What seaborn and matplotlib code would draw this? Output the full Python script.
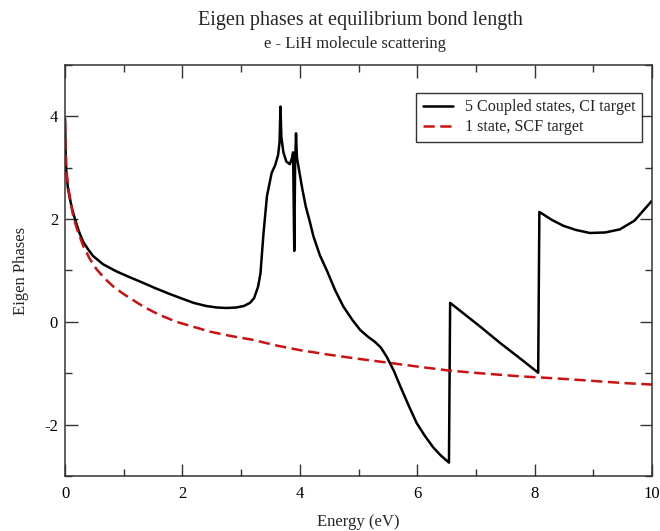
import numpy as np
import pandas as pd
import matplotlib
matplotlib.use("Agg")
import matplotlib.pyplot as plt
from matplotlib.ticker import MultipleLocator
import seaborn as sns

# ──────────────────────────────────────────────
# Data
# ──────────────────────────────────────────────
ci_energy = [
    0.0, 0.01, 0.02, 0.05, 0.085, 0.12, 0.17, 0.24, 0.31, 0.4, 0.48, 0.65,
    0.88, 1.1, 1.33, 1.55, 1.79, 2.0, 2.19, 2.4, 2.58, 2.75, 2.92, 3.05,
    3.15, 3.22, 3.29, 3.33, 3.38, 3.44, 3.52, 3.58, 3.63, 3.655, 3.67,
    3.685, 3.72, 3.77, 3.83, 3.87, 3.885, 3.905, 3.92, 3.935, 3.95, 3.98,
    4.04, 4.1, 4.17, 4.23, 4.34, 4.46, 4.6, 4.74, 4.9, 5.03, 5.15, 5.28,
    5.38, 5.48, 5.6, 5.71, 5.85, 5.99, 6.13, 6.27, 6.4, 6.54, 6.56, 7.07,
    7.4, 7.75, 8.06, 8.08, 8.3, 8.49, 8.7, 8.94, 9.2, 9.45, 9.7, 10.0,
]
ci_phase = [
    3.96, 3.35, 2.95, 2.6, 2.39, 2.2, 2.0, 1.75, 1.56, 1.4, 1.28, 1.12,
    0.98, 0.87, 0.76, 0.65, 0.54, 0.45, 0.37, 0.31, 0.28, 0.27, 0.28, 0.31,
    0.37, 0.46, 0.69, 0.95, 1.71, 2.45, 2.9, 3.05, 3.25, 3.5, 4.19,
    3.6, 3.3, 3.12, 3.07, 3.2, 3.3, 1.38, 3.1, 3.67, 3.2, 3.0,
    2.6, 2.25, 1.95, 1.67, 1.3, 1.0, 0.62, 0.3, 0.03, -0.16, -0.28, -0.39,
    -0.5, -0.68, -0.95, -1.25, -1.62, -1.97, -2.22, -2.44, -2.6, -2.74, 0.37, -0.09,
    -0.4, -0.71, -0.99, 2.14, 1.98, 1.87, 1.79, 1.73, 1.74, 1.8, 1.97, 2.36,
]

scf_energy = [
    0.0, 0.01, 0.02, 0.05, 0.1, 0.14, 0.2, 0.31, 0.42, 0.54, 0.68, 0.82,
    1.0, 1.33, 1.6, 1.9, 2.2, 2.47, 2.8, 3.2, 3.6, 4.0, 4.5, 5.0, 5.54,
    6.0, 6.56, 7.07, 7.75, 8.06, 8.5, 9.0, 9.5, 10.0,
]
scf_phase = [
    3.9, 3.3, 3.0, 2.65, 2.3, 2.06, 1.82, 1.48, 1.23, 1.02, 0.84, 0.69,
    0.54, 0.3, 0.14, 0.0, -0.1, -0.19, -0.27, -0.35, -0.46, -0.55, -0.64, -0.72, -0.8,
    -0.87, -0.95, -1.0, -1.06, -1.08, -1.11, -1.15, -1.19, -1.22,
]

ci_label = "5 Coupled states, CI target"
scf_label = "1 state, SCF target"

df_ci = pd.DataFrame({"energy": ci_energy, "phase": ci_phase})
df_scf = pd.DataFrame({"energy": scf_energy, "phase": scf_phase})

# ──────────────────────────────────────────────
# Style
# ──────────────────────────────────────────────
sns.set_style("ticks")
plt.rcParams["font.family"] = ["Liberation Serif", "DejaVu Serif"]
plt.rcParams["axes.unicode_minus"] = False

fig = plt.figure(figsize=(6.6, 5.31), dpi=100)
ax = fig.add_axes([0.0985, 0.1036, 0.8895, 0.774])

sns.lineplot(data=df_ci, x="energy", y="phase", ax=ax, sort=False,
             estimator=None, color="black", linewidth=1.8, label=ci_label)
sns.lineplot(data=df_scf, x="energy", y="phase", ax=ax, sort=False,
             estimator=None, color="#cc1111", linewidth=1.8,
             dashes=False, label=scf_label)
ax.lines[1].set_dashes([4.5, 2.2])

ax.set_xlim(0, 10)
ax.set_ylim(-3, 5)
ax.xaxis.set_major_locator(MultipleLocator(2))
ax.xaxis.set_minor_locator(MultipleLocator(1))
ax.yaxis.set_major_locator(MultipleLocator(2))
ax.yaxis.set_minor_locator(MultipleLocator(1))
ax.tick_params(which="both", direction="in", top=True, right=True,
               labelsize=12, width=1, colors="#333333", labelcolor="black")
ax.tick_params(which="major", length=9)
ax.tick_params(which="minor", length=5)
ax.tick_params(axis="x", pad=7)
ax.tick_params(axis="y", pad=5)
for s in ax.spines.values():
    s.set_linewidth(1.1)
    s.set_color("#333333")

ax.set_xlabel("Energy (eV)", fontsize=12, labelpad=9)
ax.set_ylabel("Eigen Phases", fontsize=12, labelpad=11)

leg = ax.legend(loc="upper right", bbox_to_anchor=(0.982, 0.932), fontsize=11.6,
                frameon=True, fancybox=False, edgecolor="black",
                handlelength=1.9, borderpad=0.4, labelspacing=0.25,
                handletextpad=0.7, borderaxespad=0.0)
leg.get_frame().set_linewidth(1.0)

fig.text(0.546, 1 - 20 / 531, "Eigen phases at equilibrium bond length",
         ha="center", va="center", fontsize=14.5)
fig.text(0.538, 1 - 44 / 531, "e - LiH molecule scattering",
         ha="center", va="center", fontsize=12)

fig.savefig("out.png", dpi=100)
plt.close(fig)
